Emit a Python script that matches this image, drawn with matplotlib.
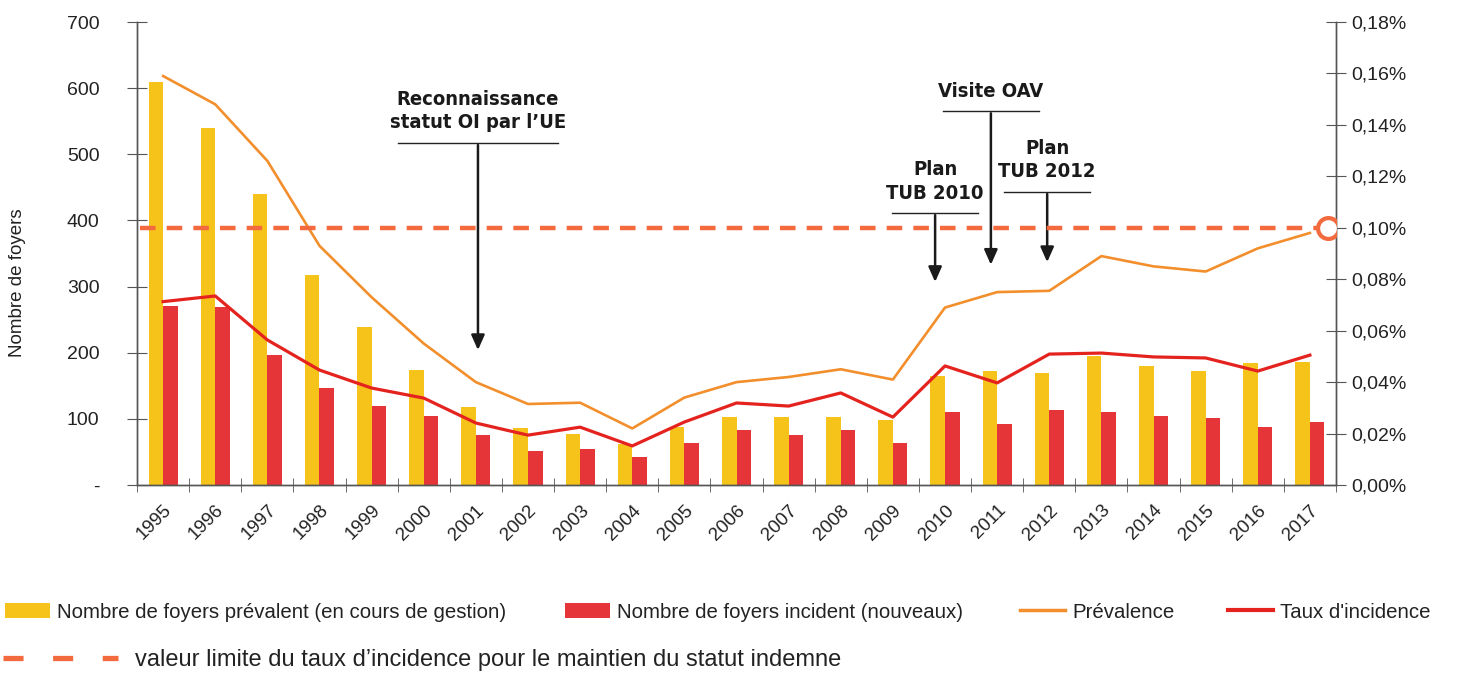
import matplotlib.pyplot as plt
import numpy as np
from matplotlib.patches import Patch
from matplotlib.lines import Line2D
from matplotlib.ticker import FixedLocator, FuncFormatter

# donnees
annees = list(range(1995, 2018))
foyers_prevalents = [610, 540, 440, 317, 239, 174, 118, 86, 77, 62, 88, 103,
                     103, 103, 98, 165, 173, 169, 195, 180, 173, 184, 186]
foyers_incidents = [271, 269, 196, 147, 120, 105, 75, 52, 55, 42, 64, 83,
                    76, 83, 63, 111, 92, 114, 111, 105, 102, 87, 95]
prevalence = [0.159, 0.148, 0.126, 0.093, 0.073, 0.055, 0.040, 0.0315, 0.032,
              0.022, 0.034, 0.040, 0.042, 0.045, 0.041, 0.069, 0.075, 0.0755,
              0.089, 0.085, 0.083, 0.092, 0.098]
taux_incidence = [0.0713, 0.0735, 0.0564, 0.0447, 0.0377, 0.0338, 0.0241,
                  0.0194, 0.0225, 0.0152, 0.0245, 0.0319, 0.0307, 0.0358,
                  0.0264, 0.0463, 0.0397, 0.0509, 0.0513, 0.0498, 0.0494,
                  0.0443, 0.0505]
seuil_incidence = 0.10

jaune = '#F6C31A'
rouge_barre = '#E63539'
orange = '#F28F2C'
rouge_ligne = '#E4231F'
orange_seuil = '#F26A3D'
gris = '#555555'

plt.rcParams['font.family'] = ['Liberation Sans', 'DejaVu Sans']

fig = plt.figure(figsize=(14.58, 6.73), dpi=100)
ax = fig.add_axes([0.094, 0.2793, 0.8223, 0.688])
ax2 = ax.twinx()

x = np.arange(len(annees))
ax.bar(x - 0.14, foyers_prevalents, width=0.28, color=jaune, zorder=2)
ax.bar(x + 0.14, foyers_incidents, width=0.28, color=rouge_barre, zorder=2)

ax2.plot(x, prevalence, color=orange, lw=1.9, zorder=3)
ax2.plot(x, taux_incidence, color=rouge_ligne, lw=2.3, zorder=3)
ax2.plot([-0.45, 22.25], [seuil_incidence, seuil_incidence], color=orange_seuil,
         lw=3.2, dashes=(3.5, 2.5), zorder=4)
ax2.plot([22.35], [seuil_incidence], 'o', ms=15, mfc='white', mec=orange_seuil,
         mew=3, zorder=5)

ax.set_xlim(-0.5, 22.5)
ax.set_ylim(0, 700)
ax2.set_ylim(0, 0.18)

for a in (ax, ax2):
    a.spines['top'].set_visible(False)
    for s in ('left', 'right', 'bottom'):
        a.spines[s].set_color(gris)
        a.spines[s].set_linewidth(1.0)

ax.set_xticks(x)
ax.set_xticklabels([str(a) for a in annees], rotation=45, ha='right',
                   va='top', rotation_mode='anchor', fontsize=13.5,
                   color='#222222')
ax.xaxis.set_minor_locator(FixedLocator(np.arange(-0.5, 23, 1)))
ax.tick_params(axis='x', which='major', length=0, pad=12)
ax.tick_params(axis='x', which='minor', direction='inout', length=10,
               color=gris)

ax.set_yticks(range(0, 701, 100))
ax.yaxis.set_major_formatter(FuncFormatter(lambda v, p: '-' if v == 0 else '%d' % v))
ax.tick_params(axis='y', direction='inout', length=14, color=gris, pad=20,
               labelsize=14, labelcolor='#222222')

ax2.set_yticks(np.arange(0, 0.181, 0.02))
ax2.yaxis.set_major_formatter(FuncFormatter(lambda v, p: ('%.2f%%' % v).replace('.', ',')))
ax2.tick_params(axis='y', direction='inout', length=14, color=gris, pad=4,
                labelsize=14, labelcolor='#222222')

fig.text(18 / 1458, 1 - 283 / 673, 'Nombre de foyers', rotation=90,
         ha='center', va='center', fontsize=13.5, color='#222222')

# annotations : texte, soulignement, fleche
notes = [
    ('Reconnaissance\nstatut OI par l\u2019UE', 6.04, 4.5, 7.58, 517, 204),
    ('Plan\nTUB 2010', 14.81, 13.98, 15.63, 411, 307),
    ('Visite OAV', 15.88, 14.96, 16.80, 565, 333),
    ('Plan\nTUB 2012', 16.96, 16.13, 17.78, 443, 337),
]
for texte, xa, x0, x1, yl, yf in notes:
    ax.plot([x0, x1], [yl, yl], color='#222222', lw=1.0, zorder=6,
            clip_on=False)
    ax.annotate('', xy=(xa, yf), xytext=(xa, yl - 3),
                arrowprops=dict(arrowstyle='-|>,head_length=0.9,head_width=0.4',
                                color='#1a1a1a', lw=1.8, shrinkA=0, shrinkB=0),
                zorder=6)
    ax.text(xa, yl + 16, texte, ha='center', va='bottom', fontsize=14.5,
            fontweight='bold', family='DejaVu Sans', fontstretch='condensed',
            color='#1a1a1a', linespacing=1.3, zorder=6)

# legende
y1 = 1 - 612 / 673
entrees = [
    (Patch(facecolor=jaune), 'Nombre de foyers prévalent (en cours de gestion)', 5),
    (Patch(facecolor=rouge_barre), 'Nombre de foyers incident (nouveaux)', 565),
    (Line2D([], [], color=orange, lw=2.5), 'Prévalence', 1020),
    (Line2D([], [], color=rouge_ligne, lw=3), "Taux d'incidence", 1228),
]
for h, lab, xl in entrees:
    fig.legend([h], [lab], loc='center left', bbox_to_anchor=(xl / 1458, y1),
               frameon=False, fontsize=14.7, handlelength=2.2,
               handleheight=0.7, handletextpad=0.35, borderaxespad=0,
               borderpad=0, labelcolor='#222222')

h_seuil = Line2D([], [], color=orange_seuil, lw=3.8, dashes=(3.8, 5.6))
fig.legend([h_seuil], ['valeur limite du taux d\u2019incidence pour le maintien du statut indemne'],
           loc='center left', bbox_to_anchor=(3 / 1458, 1 - 660 / 673),
           frameon=False, fontsize=17, handlelength=4.85, handletextpad=0.72,
           borderaxespad=0, borderpad=0, labelcolor='#222222')

fig.savefig('out.png', dpi=100)
